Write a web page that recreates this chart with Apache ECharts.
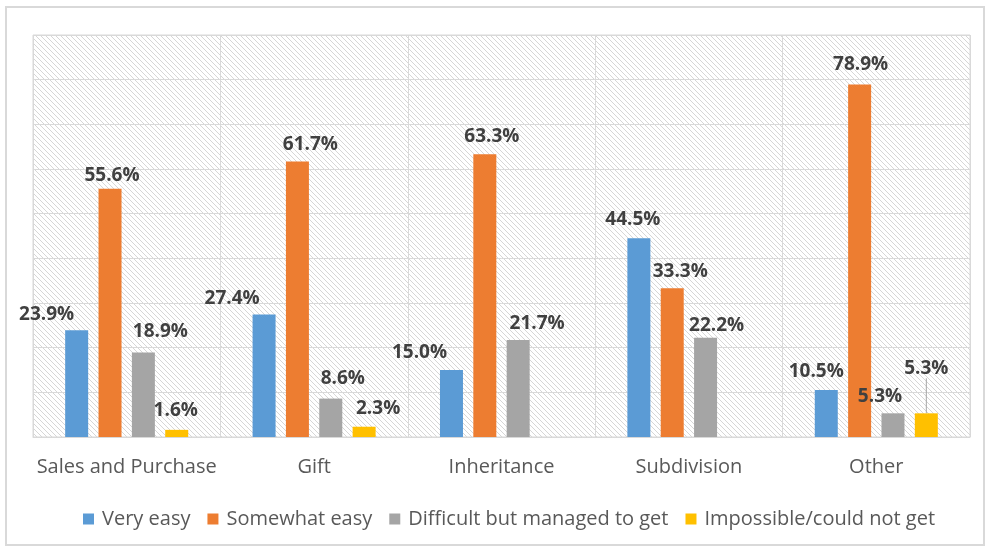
<!DOCTYPE html>
<html>
<head>
<meta charset="utf-8">
<script src="https://cdn.jsdelivr.net/npm/echarts@6/dist/echarts.min.js"></script>
<style>html,body{margin:0;padding:0;background:#fff;}#c{width:987px;height:548px;}</style>
</head>
<body>
<div id="c"></div>
<script>
var categories = ['Sales and Purchase', 'Gift', 'Inheritance', 'Subdivision', 'Other'];
var seriesNames = ['Very easy', 'Somewhat easy', 'Difficult but managed to get', 'Impossible/could not get'];
var veryEasy = [23.9, 27.4, 15.0, 44.5, 10.5];
var somewhatEasy = [55.6, 61.7, 63.3, 33.3, 78.9];
var difficult = [18.9, 8.6, 21.7, 22.2, 5.3];
var impossible = [1.6, 2.3, null, null, 5.3];
var yTicks = [0, 10, 20, 30, 40, 50, 60, 70, 80, 90];

var colors = ['#5B9BD5', '#ED7D31', '#A5A5A5', '#FFC000'];
// manual label nudges (Excel-style placement)
var labelNudges = [
  [[-30,-3],[-32,-4],[-32,-5],[-6,-6],[-10,-6]],
  [[2,-1],[13,-4],[7,-5],[8,-4],[1,-7]],
  [[17,-8],[12,-7],[19,-4],[11,0],[-13,-4]],
  [[-1,-7],[14,-6],[0,0],[0,0],[0,-32]]
];

var pc = document.createElement('canvas');
var s = 5;
pc.width = s; pc.height = s;
var ctx = pc.getContext('2d');
ctx.fillStyle = '#ffffff';
ctx.fillRect(0,0,s,s);
ctx.strokeStyle = '#d6d6d6';
ctx.lineWidth = 1;
[-s, 0, s].forEach(function(x0){
  ctx.beginPath(); ctx.moveTo(x0, 0); ctx.lineTo(x0 + s, s); ctx.stroke();
});

var chart = echarts.init(document.getElementById('c'));
var dataSets = [veryEasy, somewhatEasy, difficult, impossible];
var series = dataSets.map(function(d, i){
  return {
    name: seriesNames[i],
    type: 'bar',
    data: d.map(function(v, j){
      var far = Math.abs(labelNudges[i][j][1]) > 20;
      return {value: v, labelLine: {show: far}};
    }),
    barWidth: 23,
    barGap: '45%',
    itemStyle: {color: colors[i]},
    label: {
      show: true, position: 'top', distance: 3,
      formatter: function(p){ return p.value == null ? '' : p.value.toFixed(1) + '%'; },
      fontFamily: 'Open Sans', fontWeight: 'bold', fontSize: 19, color: '#404040'
    },
    labelLine: {lineStyle: {color: '#a6a6a6', width: 1}},
    labelLayout: function(p){
      var n = labelNudges[i][p.dataIndex];
      return {dx: n[0], dy: n[1]};
    }
  };
});

chart.setOption({
  animation: false,
  color: colors,
  graphic: [{
    type: 'rect', shape: {x: 6, y: 7, width: 978, height: 538},
    style: {fill: 'none', stroke: '#d9d9d9', lineWidth: 2}, z: -10
  }],
  grid: {
    left: 33, right: 17, top: 35, bottom: 111,
    show: true, backgroundColor: {image: pc, repeat: 'repeat'},
    borderColor: '#d9d9d9', borderWidth: 1
  },
  legend: {
    bottom: 14, left: 78, itemWidth: 11, itemHeight: 11, itemGap: 17,
    icon: 'rect',
    textStyle: {fontFamily: 'Open Sans', fontSize: 20, color: '#595959', padding: [0,0,0,3]},
    data: seriesNames
  },
  xAxis: {
    type: 'category', data: categories,
    axisLine: {lineStyle: {color: '#d9d9d9'}},
    axisTick: {show: false},
    splitLine: {show: true, interval: 0, lineStyle: {color: '#d9d9d9'}},
    axisLabel: {interval: 0, fontFamily: 'Open Sans', fontSize: 20, color: '#595959', margin: 20}
  },
  yAxis: {
    type: 'value', min: yTicks[0], max: yTicks[yTicks.length-1], interval: 10,
    axisLabel: {show: false}, axisLine: {show: false}, axisTick: {show: false},
    splitLine: {lineStyle: {color: '#d9d9d9'}}
  },
  series: series
});
</script>
</body>
</html>
